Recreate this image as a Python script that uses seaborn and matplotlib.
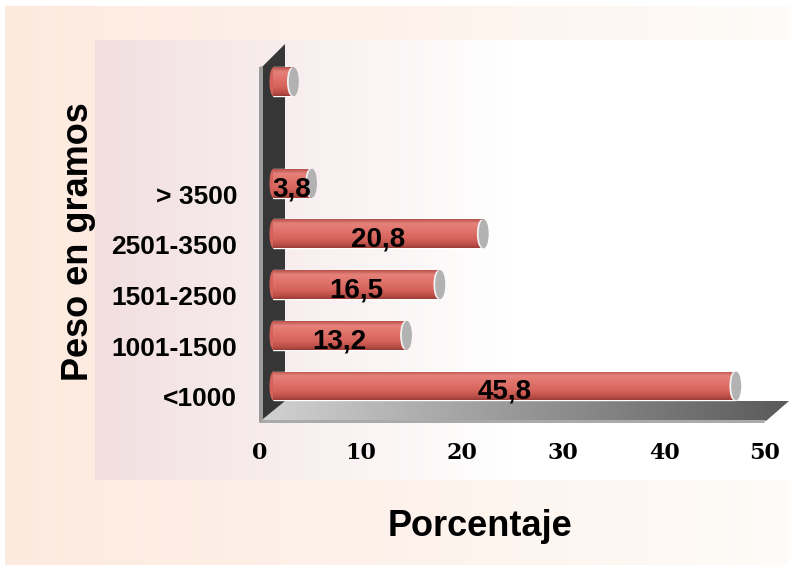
import numpy as np
import pandas as pd
import seaborn as sns
import matplotlib.pyplot as plt
from matplotlib.patches import Polygon, Ellipse
from matplotlib.colors import LinearSegmentedColormap

sns.set_theme(style="white")
plt.rcParams['font.family'] = ['Liberation Sans', 'DejaVu Sans']
plt.rcParams['text.color'] = 'black'
plt.rcParams['xtick.color'] = 'black'
plt.rcParams['ytick.color'] = 'black'

# Peso al nacer (gramos) y porcentaje de casos
categories = ["", "> 3500", "2501-3500", "1501-2500", "1001-1500", "<1000"]
percent = [2.0, 3.8, 20.8, 16.5, 13.2, 45.8]
order = ["", " ", "> 3500", "2501-3500", "1501-2500", "1001-1500", "<1000"]
x_ticks = [0, 10, 20, 30, 40, 50]

W, H = 789, 565  # output size in pixels


def rect(l, t, r, b):
    # pixel box (image coords, y down) -> figure fraction
    return [l / W, 1 - b / H, (r - l) / W, (b - t) / H]


def cmap(stops):
    return LinearSegmentedColormap.from_list('c', stops)


outer_cmap = cmap(['#fdeadf', '#fefbf8'])
inner_cmap = cmap([(0, '#f2dfe0'), (0.6, '#ffffff'), (1, '#ffffff')])
floor_cmap = cmap(['#d2d2d2', '#5a5a5a'])
bar_cmap = cmap([(0, '#b9524c'), (0.15, '#e4827a'), (0.35, '#e2766e'),
                 (0.7, '#d4625a'), (0.9, '#b84c46'), (1, '#9a3d38')])

fig = plt.figure(figsize=(W / 100, H / 100), dpi=100)
fig.patch.set_facecolor('white')

# background panels, wall and floor drawn in pixel coords
bg = fig.add_axes([0, 0, 1, 1], zorder=0)
bg.set_xlim(0, W)
bg.set_ylim(H, 0)
bg.axis('off')
hgrad = np.linspace(0, 1, 256).reshape(1, -1)
bg.imshow(hgrad, cmap=outer_cmap, extent=(5, W, H, 6), aspect='auto')
bg.imshow(hgrad, cmap=inner_cmap, extent=(95, W, 480, 40), aspect='auto')

floor = Polygon([(260, 421), (284, 401), (789, 401), (766, 421)], closed=True,
                fc='none', ec='none')
bg.add_patch(floor)
im = bg.imshow(hgrad, cmap=floor_cmap, extent=(260, 789, 421, 401), aspect='auto')
im.set_clip_path(floor)
bg.add_patch(Polygon([(260, 420), (766, 420), (764, 423), (260, 423)],
                     closed=True, fc='#aaaaaa', ec='none'))
bg.add_patch(Polygon([(263, 419), (263, 66), (285, 44), (285, 401)],
                     closed=True, fc='#363636', ec='none'))
bg.add_patch(Polygon([(259, 423), (259, 67), (263, 66), (263, 420)],
                     closed=True, fc='#9c9c9c', ec='none'))
bg.set_xlim(0, W)
bg.set_ylim(H, 0)

ylims = (6.454, -0.529)

# axis with tick labels
ax = fig.add_axes(rect(260, 66, 765, 420), zorder=1)
ax.set_facecolor('none')
ax.set_xlim(0, 50)
ax.set_ylim(*ylims)
ax.set_xticks(x_ticks)
ax.set_xticklabels([str(t) for t in x_ticks], fontfamily='DejaVu Serif',
                   fontweight='bold', fontsize=16)
ax.set_yticks(range(len(order)))
ax.set_yticklabels(order, fontweight='bold', fontsize=19)
ax.tick_params(axis='x', length=0, pad=16)
ax.tick_params(axis='y', length=0, pad=16.5)
for s in ax.spines.values():
    s.set_visible(False)
ax.grid(False)

# bars sit deeper in the 3D box: same scales, shifted axes
ax_b = fig.add_axes(rect(273, 55, 778, 409), zorder=2)
ax_b.set_facecolor('none')
df = pd.DataFrame({'peso': categories, 'porcentaje': percent})
sns.barplot(data=df, x='porcentaje', y='peso', order=order, orient='h',
            color='#d8625a', width=0.57, saturation=1, ax=ax_b)

px = 50 / 505  # data units per pixel along x
vgrad = np.linspace(0, 1, 64).reshape(-1, 1)
for p in list(ax_b.patches):
    x0, w = p.get_x(), p.get_width()
    y0, h = p.get_y(), p.get_height()
    yc = y0 + h / 2
    p.set_zorder(3)
    g = ax_b.imshow(vgrad, cmap=bar_cmap, extent=(x0, x0 + w, y0 + h, y0),
                    aspect='auto', zorder=3.1)
    g.set_clip_path(p)
    # rounded left end
    le = Ellipse((x0 + 0.5 * px, yc), 8 * px, h, fc='#d4625a', ec='none',
                 zorder=3.2, clip_on=False)
    ax_b.add_patch(le)
    g2 = ax_b.imshow(vgrad, cmap=bar_cmap, extent=(x0 - 4 * px, x0 + 5 * px, y0 + h, y0),
                     aspect='auto', zorder=3.3)
    g2.set_clip_path(le)
    g2.set_clip_box(None)
    # grey cap with highlight
    ax_b.add_patch(Ellipse((x0 + w - 1.2 * px, yc), 10 * px, h, fc='#f2f2f2',
                           ec='none', zorder=3.4))
    ax_b.add_patch(Ellipse((x0 + w + 0.6 * px, yc), 10 * px, h, fc='#b2b2b2',
                           ec='none', zorder=3.5))
    label = order[int(round(yc))]
    if label.strip():
        ax_b.text(x0 + w / 2, yc + 6 / 50.7, f"{w:.1f}".replace('.', ','),
                  ha='center', va='center', fontsize=20, fontweight='bold',
                  color='black', zorder=5)

ax_b.set_xlim(0, 50)
ax_b.set_ylim(*ylims)
ax_b.axis('off')

fig.text(78 / W, 1 - 242 / H, 'Peso en gramos', rotation=90, ha='center',
         va='center', fontsize=26, fontweight='bold', color='black')
fig.text(480 / W, 1 - 527 / H, 'Porcentaje', ha='center', va='center',
         fontsize=26, fontweight='bold', color='black')

fig.savefig('out.png', dpi=100)
